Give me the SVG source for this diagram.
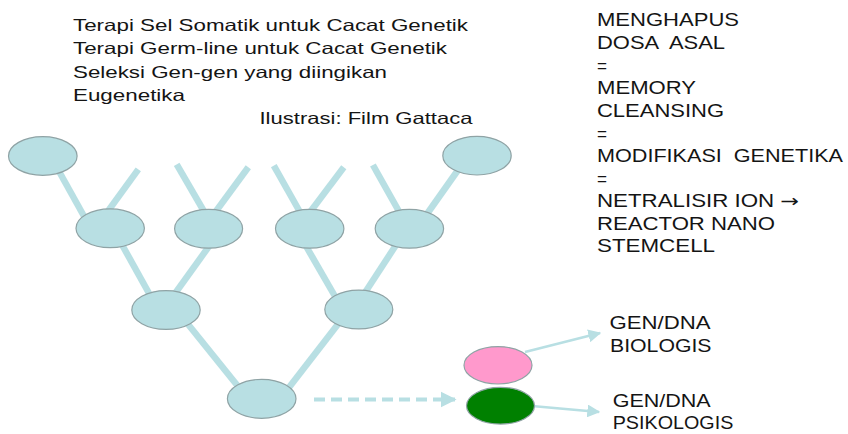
<svg xmlns="http://www.w3.org/2000/svg" width="848" height="434" viewBox="0 0 848 434">
<defs>
<style>
text{font-family:"Liberation Sans",Arial,sans-serif;fill:#141414;white-space:pre;}
.t1{font-size:16.5px;}
.t2{font-size:17.5px;}
.arw{font-family:"DejaVu Sans",sans-serif;}
.br{stroke:#b8dfe3;stroke-width:6.5;fill:none;}
.nd{fill:#b8dfe3;stroke:#8fa3a5;stroke-width:1.2;}
.ar{stroke:#b8dfe3;stroke-width:2.6;fill:none;}
</style>
<marker id="ah" viewBox="0 0 10 10" refX="9" refY="5" markerWidth="5" markerHeight="5" markerUnits="strokeWidth" orient="auto">
<path d="M0,0 L10,5 L0,10 z" fill="#b8dfe3"/>
</marker>
<marker id="ah2" viewBox="0 0 10 10" refX="9" refY="5" markerWidth="4" markerHeight="4.4" markerUnits="strokeWidth" orient="auto">
<path d="M0,0 L10,5 L0,10 z" fill="#b8dfe3"/>
</marker>
</defs>
<rect width="848" height="434" fill="#ffffff"/>

<g id="text-left">
<text class="t1" x="73" y="30.5" textLength="395" lengthAdjust="spacingAndGlyphs">Terapi Sel Somatik untuk Cacat Genetik</text>
<text class="t1" x="73" y="54" textLength="374" lengthAdjust="spacingAndGlyphs">Terapi Germ-line untuk Cacat Genetik</text>
<text class="t1" x="73" y="77.5" textLength="314" lengthAdjust="spacingAndGlyphs">Seleksi Gen-gen yang diingikan</text>
<text class="t1" x="73" y="101" textLength="112" lengthAdjust="spacingAndGlyphs">Eugenetika</text>
<text class="t1" x="259.5" y="124" textLength="213" lengthAdjust="spacingAndGlyphs">Ilustrasi: Film Gattaca</text>
</g>

<g id="text-right">
<text class="t2" x="597" y="26" textLength="142" lengthAdjust="spacingAndGlyphs">MENGHAPUS</text>
<text class="t2" x="597" y="49" textLength="128" lengthAdjust="spacingAndGlyphs">DOSA  ASAL</text>
<text class="t2" x="597" y="71.5" textLength="10" lengthAdjust="spacingAndGlyphs">=</text>
<text class="t2" x="597" y="94" textLength="99" lengthAdjust="spacingAndGlyphs">MEMORY</text>
<text class="t2" x="597" y="117" textLength="127" lengthAdjust="spacingAndGlyphs">CLEANSING</text>
<text class="t2" x="597" y="139.5" textLength="10" lengthAdjust="spacingAndGlyphs">=</text>
<text class="t2" x="597" y="162" textLength="246" lengthAdjust="spacingAndGlyphs">MODIFIKASI  GENETIKA</text>
<text class="t2" x="597" y="185" textLength="10" lengthAdjust="spacingAndGlyphs">=</text>
<text class="t2" x="597" y="207" textLength="202" lengthAdjust="spacingAndGlyphs">NETRALISIR ION <tspan class="arw">→</tspan></text>
<text class="t2" x="597" y="230" textLength="178" lengthAdjust="spacingAndGlyphs">REACTOR NANO</text>
<text class="t2" x="597" y="252" textLength="118" lengthAdjust="spacingAndGlyphs">STEMCELL</text>
</g>

<g id="connectors">
<line class="br" x1="52.7" y1="160" x2="87.2" y2="222"/>
<line class="br" x1="103" y1="218" x2="138.3" y2="169.3"/>
<line class="br" x1="176.7" y1="164.3" x2="209" y2="220"/>
<line class="br" x1="211" y1="218" x2="248.3" y2="167.3"/>
<line class="br" x1="273.8" y1="165.6" x2="304.5" y2="220"/>
<line class="br" x1="305.6" y1="218" x2="343.8" y2="167.3"/>
<line class="br" x1="372.9" y1="165" x2="403.8" y2="220"/>
<line class="br" x1="421.3" y1="222" x2="463.7" y2="162"/>
<line class="br" x1="119.4" y1="240" x2="155.5" y2="305"/>
<line class="br" x1="213.5" y1="240" x2="168.2" y2="303"/>
<line class="br" x1="302.5" y1="240" x2="340" y2="305"/>
<line class="br" x1="399.3" y1="240" x2="356.9" y2="305"/>
<line class="br" x1="183" y1="318" x2="245.8" y2="396"/>
<line class="br" x1="344.3" y1="316" x2="282.4" y2="396"/>
<line x1="314" y1="399.5" x2="455" y2="399.5" stroke="#b8dfe3" stroke-width="4" stroke-dasharray="11,6" marker-end="url(#ah2)"/>
<line class="ar" x1="525" y1="352" x2="600" y2="333" marker-end="url(#ah)"/>
<line class="ar" x1="532" y1="406" x2="599" y2="412" marker-end="url(#ah)"/>
</g>

<g id="node-tl"><ellipse class="nd" cx="42.8" cy="156" rx="34.3" ry="19.3"/></g>
<g id="node-tr"><ellipse class="nd" cx="477" cy="155.7" rx="34.2" ry="19.3"/></g>
<g id="node-a"><ellipse class="nd" cx="110.2" cy="228.3" rx="34.2" ry="19.4"/></g>
<g id="node-b"><ellipse class="nd" cx="208.6" cy="228.8" rx="34" ry="19.4"/></g>
<g id="node-c"><ellipse class="nd" cx="309.7" cy="228.8" rx="34.2" ry="19.4"/></g>
<g id="node-d"><ellipse class="nd" cx="409.4" cy="228.8" rx="34.2" ry="19.4"/></g>
<g id="node-e"><ellipse class="nd" cx="166" cy="310" rx="34.2" ry="19.4"/></g>
<g id="node-f"><ellipse class="nd" cx="358.8" cy="309.5" rx="34" ry="19.4"/></g>
<g id="node-root"><ellipse class="nd" cx="261.7" cy="398.8" rx="34.3" ry="19.5"/></g>
<g id="node-pink"><ellipse cx="498" cy="365.3" rx="34" ry="18.7" fill="#ff99cc" stroke="#8fa3a5" stroke-width="1.2"/></g>
<g id="node-green"><ellipse cx="500.5" cy="405.7" rx="34" ry="18.4" fill="#008000" stroke="#8fa3a5" stroke-width="1.2"/></g>

<g id="labels-bottom">
<text class="t2" x="609.5" y="329" textLength="101" lengthAdjust="spacingAndGlyphs">GEN/DNA</text>
<text class="t2" x="610" y="351.5" textLength="101.5" lengthAdjust="spacingAndGlyphs">BIOLOGIS</text>
<text class="t2" x="612.7" y="407" textLength="98" lengthAdjust="spacingAndGlyphs">GEN/DNA</text>
<text class="t2" x="612.7" y="429" textLength="120.6" lengthAdjust="spacingAndGlyphs">PSIKOLOGIS</text>
</g>
</svg>
